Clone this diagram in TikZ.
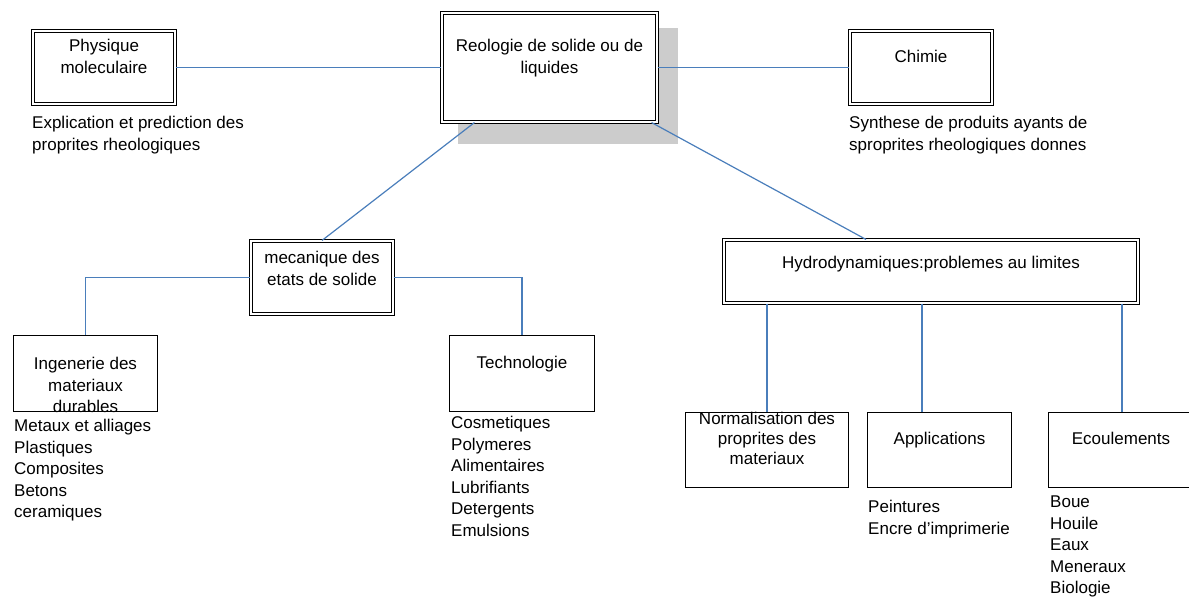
\documentclass[tikz,border=0pt]{standalone}
\usepackage{fontspec}
\setmainfont{Liberation Sans}
\usetikzlibrary{calc}
\definecolor{conn}{HTML}{4A7EBB}
\definecolor{shadowgray}{HTML}{CCCCCC}
\tikzset{
  dbox/.style={draw=black, line width=1.1pt, double=white, double distance=1.7pt, fill=white, rectangle, inner sep=0pt},
  sbox/.style={draw=black, line width=1.3pt, fill=white, rectangle, inner sep=0pt},
  ctext/.style={anchor=north, inner sep=0pt, align=center, font=\fontsize{17}{21.5}\selectfont},
  ltext/.style={anchor=north west, inner sep=0pt, align=left, font=\fontsize{17}{21.5}\selectfont},
  link/.style={draw=conn, line width=1.2pt},
}
\begin{document}
\begin{tikzpicture}[x=1pt, y=-1pt]
\useasboundingbox (0,0) rectangle (1189,599);
% shadow of central box
\fill[shadowgray] (458,28) rectangle (678,144);
% boxes
\node[dbox, minimum width=142pt, minimum height=73pt] (phys) at (104,67.5) {};
\node[dbox, minimum width=215pt, minimum height=109pt] (reol) at (549.5,67.5) {};
\node[dbox, minimum width=142pt, minimum height=73pt] (chim) at (921,67.5) {};
\node[dbox, minimum width=142pt, minimum height=73pt] (meca) at (322,277.5) {};
\node[dbox, minimum width=414pt, minimum height=63pt] (hydro) at (931,271.5) {};
\node[sbox, minimum width=143.7pt, minimum height=75.7pt] (inge) at (85.5,373.5) {};
\node[sbox, minimum width=144.7pt, minimum height=75.7pt] (tech) at (522,373.5) {};
\node[sbox, minimum width=162.7pt, minimum height=74.7pt] (norm) at (767,450) {};
\node[sbox, minimum width=143.7pt, minimum height=74.7pt] (appl) at (939.5,450) {};
\node[sbox, minimum width=146.7pt, minimum height=74.7pt] (ecou) at (1122,450) {};
% connectors
\draw[link] (phys.east) -- (reol.west);
\draw[link] (reol.east) -- (chim.west);
\draw[link] ([xshift=33pt]reol.south west) -- (meca.north);
\draw[link] ([xshift=-6pt]reol.south east) -- ([xshift=-65pt]hydro.north);
\draw[link] (meca.west) -| (inge.north);
\draw[link] (meca.east) -| (tech.north);
\draw[link] (hydro.south -| norm.north) -- (norm.north);
\draw[link] ([xshift=-17.5pt]appl.north |- hydro.south) -- ([xshift=-17.5pt]appl.north);
\draw[link] (hydro.south -| ecou.north) -- (ecou.north);
% texts
\node[ctext] (tphys) at (104,39) {Physique\\moleculaire};
\node[ltext] (tphysd) at (32,116) {Explication et prediction des\\proprites rheologiques};
\node[ctext] (treol) at (549.5,39) {Reologie de solide ou de\\liquides};
\node[ctext] (tchim) at (921,50) {Chimie};
\node[ltext] (tchimd) at (849,116) {Synthese de produits ayants de\\sproprites rheologiques donnes};
\node[ctext] (tmeca) at (322,251) {mecanique des\\etats de solide};
\node[ctext] (thydro) at (931,256) {Hydrodynamiques:problemes au limites};
\node[ctext] (tinge) at (85.5,357) {Ingenerie des\\materiaux\\durables};
\node[ltext] (tinged) at (14,419) {Metaux et alliages\\Plastiques\\Composites\\Betons\\ceramiques};
\node[ctext] (ttech) at (522,356) {Technologie};
\node[ltext] (ttechd) at (451,416) {Cosmetiques\\Polymeres\\Alimentaires\\Lubrifiants\\Detergents\\Emulsions};
\node[ctext, font=\fontsize{17}{20}\selectfont] (tnorm) at (767,412) {Normalisation des\\proprites des\\materiaux};
\node[ctext] (tappl) at (939.5,432) {Applications};
\node[ltext] (tappld) at (868,500) {Peintures\\Encre d’imprimerie};
\node[ctext] (tecou) at (1121,432) {Ecoulements};
\node[ltext] (tecoud) at (1050,496) {Boue\\Houile\\Eaux\\Meneraux\\Biologie};
\end{tikzpicture}
\end{document}
